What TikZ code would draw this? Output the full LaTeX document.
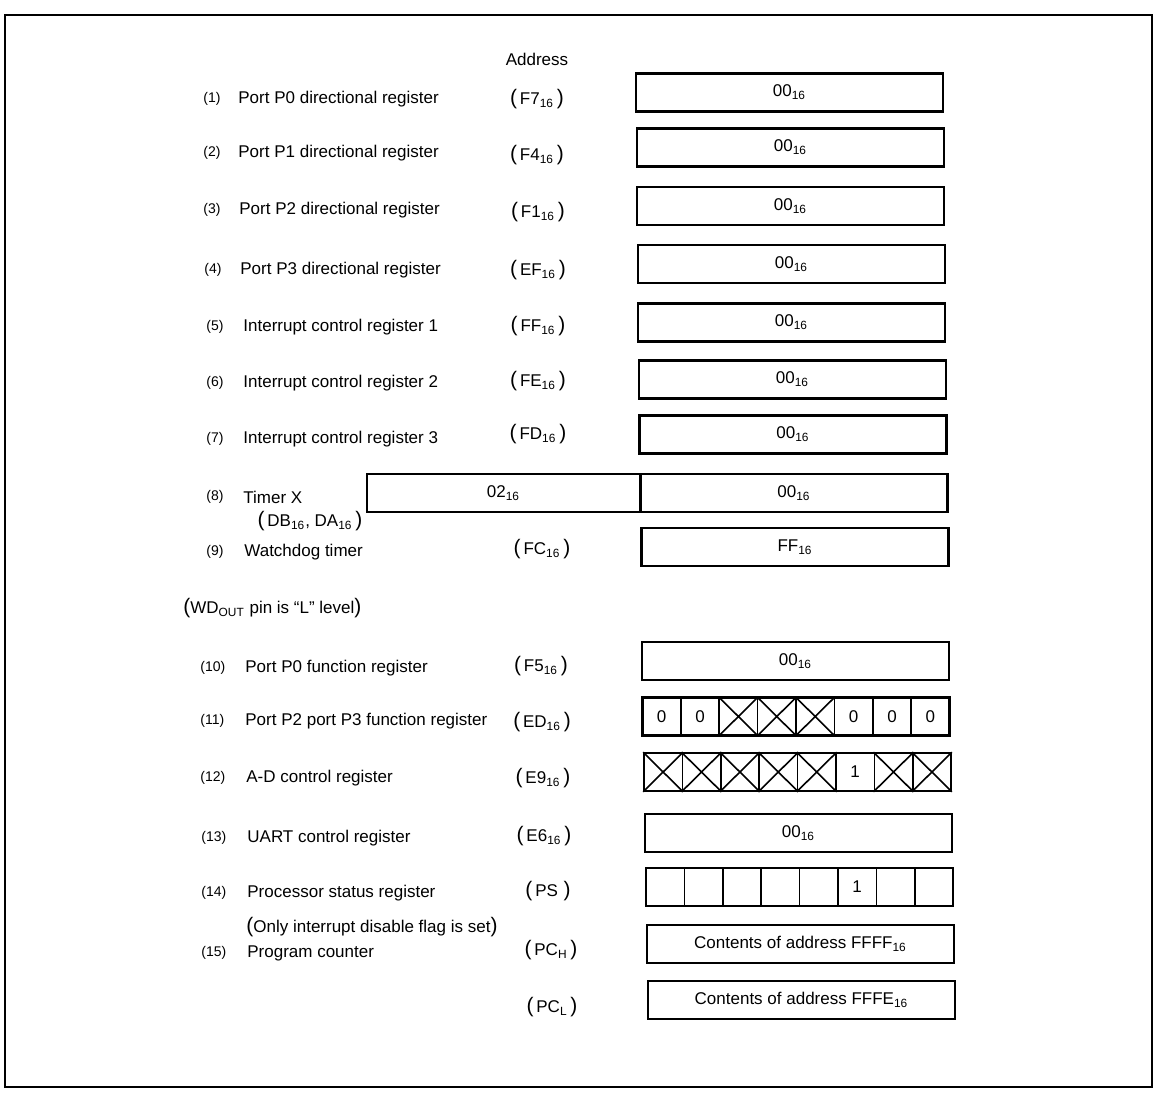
\documentclass[tikz,border=0pt]{standalone}
\usepackage{fontspec}
\setmainfont{Liberation Sans}
\usetikzlibrary{positioning}

\newcommand{\hx}[1]{#1\textsubscript{16}}
\newcommand{\bp}[1]{{\fontsize{10.5}{10}\selectfont#1}}
\newcommand{\adr}[1]{\bp{(}\,#1\,\bp{)}}

\tikzset{
  frame/.style={line width=1.4pt},
  regbox/.style={draw, line width=1.3pt, minimum width=153.5pt, minimum height=19pt, inner sep=0pt},
  cell/.style={draw, line width=0.8pt, minimum width=19.2pt, minimum height=19pt, inner sep=0pt},
  num/.style={anchor=west, inner sep=0pt, font=\fontsize{7}{8}\selectfont},
  lbl/.style={anchor=west, inner sep=0pt},
  adrs/.style={anchor=center},
}

\begin{document}
\begin{tikzpicture}[x=0.5pt, y=-0.5pt, font=\fontsize{8.5}{10}\selectfont]
  \useasboundingbox (0,0) rectangle (1157,1093);

  % Outer frame
  \draw[frame] (5,15) rectangle (1152,1087);

  \node (head) at (537,59) {Address};

  % (1)-(4) port directional registers
  \node[num] (n1) at (203,99)  {(1)};
  \node[lbl] (l1) at (238,99)  {Port P0 directional register};
  \node[adrs] (a1) at (537,99) {\adr{\hx{F7}}};
  \node[regbox] (r1) at (789.5,92.5) {\hx{00}};

  \node[num] (n2) at (203,153)  {(2)};
  \node[lbl] (l2) at (238,153)  {Port P1 directional register};
  \node[adrs] (a2) at (537,155) {\adr{\hx{F4}}};
  \node[regbox] (r2) at (790.5,147.5) {\hx{00}};

  \node[num] (n3) at (203,210)  {(3)};
  \node[lbl] (l3) at (239,210)  {Port P2 directional register};
  \node[adrs] (a3) at (538,212) {\adr{\hx{F1}}};
  \node[regbox] (r3) at (790.5,206) {\hx{00}};

  \node[num] (n4) at (204,270)  {(4)};
  \node[lbl] (l4) at (240,270)  {Port P3 directional register};
  \node[adrs] (a4) at (538,270) {\adr{\hx{EF}}};
  \node[regbox] (r4) at (791.5,264) {\hx{00}};

  % (5)-(7) interrupt control registers
  \node[num] (n5) at (206,327)  {(5)};
  \node[lbl] (l5) at (243,327)  {Interrupt control register 1};
  \node[adrs] (a5) at (538,326) {\adr{\hx{FF}}};
  \node[regbox] (r5) at (791.5,322.5) {\hx{00}};

  \node[num] (n6) at (206,383)  {(6)};
  \node[lbl] (l6) at (243,383)  {Interrupt control register 2};
  \node[adrs] (a6) at (538,381) {\adr{\hx{FE}}};
  \node[regbox] (r6) at (792.5,379.5) {\hx{00}};

  \node[num] (n7) at (206,439)  {(7)};
  \node[lbl] (l7) at (243,439)  {Interrupt control register 3};
  \node[adrs] (a7) at (538,434) {\adr{\hx{FD}}};
  \node[regbox] (r7) at (793,434.5) {\hx{00}};

  % (8) timer X, two bytes
  \node[num] (n8) at (206,497)  {(8)};
  \node[lbl] (l8) at (243,497)  {Timer X};
  \node[adrs] (a8) at (310,521) {\adr{\hx{DB}, \hx{DA}}};
  \node[regbox, minimum width=136.5pt] (r8h) at (503.5,493) {\hx{02}};
  \node[regbox] (r8l) at (794,493) {\hx{00}};

  % (9) watchdog timer
  \node[num] (n9) at (206,552)  {(9)};
  \node[lbl] (l9) at (244,552)  {Watchdog timer};
  \node[adrs] (a9) at (542,549) {\adr{\hx{FC}}};
  \node[regbox] (r9) at (795,547) {\hx{FF}};

  \node[lbl] (wd) at (183,608) {\bp{(}WD\textsubscript{OUT} pin is ``L'' level\bp{)}};

  % (10) port P0 function register
  \node[num] (n10) at (200,668) {(10)};
  \node[lbl] (l10) at (245,668) {Port P0 function register};
  \node[adrs] (a10) at (541,666) {\adr{\hx{F5}}};
  \node[regbox] (r10) at (795.5,661) {\hx{00}};

  % (11) port P2 port P3 function register
  \node[num] (n11) at (200,721) {(11)};
  \node[lbl] (l11) at (245,721) {Port P2 port P3 function register};
  \node[adrs] (a11) at (542,722) {\adr{\hx{ED}}};
  \foreach \v [count=\i] in {0,0,,,,0,0,0}
    \node[cell] (pf\i) at ({623.2+38.4*\i},716.5) {\v};
  \foreach \i in {3,4,5}
    \draw[line width=0.8pt] (pf\i.north west) -- (pf\i.south east) (pf\i.north east) -- (pf\i.south west);
  \node[regbox] (r11) at (796,716.5) {};

  % (12) A-D control register
  \node[num] (n12) at (200,778) {(12)};
  \node[lbl] (l12) at (246,778) {A-D control register};
  \node[adrs] (a12) at (543,778) {\adr{\hx{E9}}};
  \foreach \v [count=\i] in {,,,,,1,,}
    \node[cell] (ad\i) at ({624.7+38.4*\i},772) {\v};
  \foreach \i in {1,2,3,4,5,7,8}
    \draw[line width=0.8pt] (ad\i.north west) -- (ad\i.south east) (ad\i.north east) -- (ad\i.south west);
  \node[regbox] (r12) at (797.5,772) {};

  % (13) UART control register
  \node[num] (n13) at (201,838) {(13)};
  \node[lbl] (l13) at (247,838) {UART control register};
  \node[adrs] (a13) at (544,836) {\adr{\hx{E6}}};
  \node[regbox] (r13) at (798.5,833) {\hx{00}};

  % (14) processor status register
  \node[num] (n14) at (201,893) {(14)};
  \node[lbl] (l14) at (247,893) {Processor status register};
  \node[adrs] (a14) at (548,891) {\adr{PS\,}};
  \foreach \v [count=\i] in {,,,,,1,,}
    \node[cell] (ps\i) at ({626.7+38.4*\i},887) {\v};
  \node[regbox] (r14) at (799.5,887) {};
  \node[lbl] (only) at (246,927) {\bp{(}Only interrupt disable flag is set\bp{)}};

  % (15) program counter
  \node[num] (n15) at (201,953) {(15)};
  \node[lbl] (l15) at (247,953) {Program counter};
  \node[adrs] (a15) at (551,950) {\adr{PC\textsubscript{H}}};
  \node[regbox] (r15h) at (800.5,944) {Contents of address \hx{FFFF}};
  \node[adrs] (a16) at (552,1007) {\adr{PC\textsubscript{L}}};
  \node[regbox] (r15l) at (801.5,1000) {Contents of address \hx{FFFE}};
\end{tikzpicture}
\end{document}
